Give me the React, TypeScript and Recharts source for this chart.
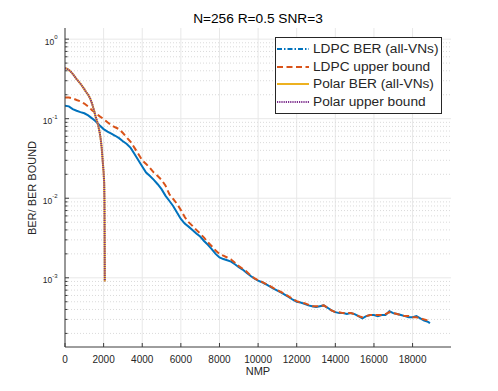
import React from 'react';
import { LineChart, Line, XAxis, YAxis, CartesianGrid, Legend } from 'recharts';

// NMP sample positions for the LDPC curves
const ldpcNmp = [
  0, 200, 400, 600, 800, 1000, 1200, 1400, 1600, 1800,
  2000, 2200, 2400, 2600, 2800, 3000, 3200, 3400, 3600, 3800,
  4000, 4200, 4400, 4600, 4800, 5000, 5200, 5400, 5600, 5800,
  6000, 6200, 6400, 6600, 6800, 7000, 7200, 7400, 7600, 7800,
  8000, 8200, 8400, 8600, 8800, 9000, 9200, 9400, 9600, 9800,
  10000, 10200, 10400, 10600, 10800, 11000, 11200, 11400, 11600, 11800,
  12000, 12200, 12400, 12600, 12800, 13000, 13200, 13400, 13600, 13800,
  14000, 14200, 14400, 14600, 14800, 15000, 15200, 15400, 15600, 15800,
  16000, 16200, 16400, 16600, 16800, 17000, 17200, 17400, 17600, 17800,
  18000, 18200, 18400, 18600, 18800, 18900,
];

const ldpcBer = [
  0.146, 0.143, 0.132, 0.126, 0.121, 0.117, 0.110, 0.101, 0.092, 0.082,
  0.074, 0.069, 0.065, 0.061, 0.057, 0.052, 0.048, 0.043, 0.036, 0.030,
  0.025, 0.021, 0.019, 0.017, 0.015, 0.013, 0.0108, 0.0093, 0.0080, 0.0066,
  0.0055, 0.0048, 0.0044, 0.0040, 0.0036, 0.0033, 0.0029, 0.0026, 0.0023, 0.0020,
  0.0018, 0.00172, 0.00166, 0.0016, 0.00148, 0.00136, 0.00127, 0.00116, 0.00106, 0.00098,
  0.00092, 0.00088, 0.00083, 0.00078, 0.00073, 0.00069, 0.00065, 0.00061, 0.00057, 0.00053,
  0.0005, 0.00049, 0.00047, 0.00045, 0.00044, 0.00043, 0.00044, 0.00045, 0.00042, 0.00039,
  0.00037, 0.00036, 0.00036, 0.00035, 0.00036, 0.00035, 0.00033, 0.00031, 0.00033, 0.00034,
  0.00034, 0.00033, 0.00034, 0.00034, 0.00038, 0.00036, 0.00035, 0.00034, 0.00033, 0.00032,
  0.00032, 0.00033, 0.00031, 0.00029, 0.00028, 0.00027,
];

const ldpcBound = [
  0.185, 0.185, 0.180, 0.172, 0.165, 0.155, 0.142, 0.128, 0.117, 0.107,
  0.099, 0.090, 0.083, 0.078, 0.074, 0.066, 0.058, 0.051, 0.043, 0.036,
  0.030, 0.027, 0.024, 0.021, 0.019, 0.017, 0.0145, 0.0113, 0.0098, 0.0085,
  0.0071, 0.0058, 0.0050, 0.0045, 0.0040, 0.0036, 0.0032, 0.0028, 0.0025, 0.0022,
  0.0020, 0.0019, 0.0018, 0.0017, 0.00155, 0.0014, 0.0013, 0.0012, 0.00108, 0.00099,
  0.00093, 0.00089, 0.00084, 0.00079, 0.00074, 0.0007, 0.00066, 0.00062, 0.00058, 0.00054,
  0.00051, 0.00049, 0.00048, 0.00046, 0.00044, 0.00044, 0.00044, 0.00045, 0.00042, 0.00039,
  0.00037, 0.00037, 0.00036, 0.00036, 0.00036, 0.00035, 0.00033, 0.00032, 0.00033, 0.00034,
  0.00034, 0.00034, 0.00034, 0.00035, 0.00037, 0.00036, 0.00035, 0.00034, 0.00033, 0.00033,
  0.00032, 0.00032, 0.00031, 0.0003, 0.00029, 0.00029,
];

const polarNmp = [
  0, 100, 200, 300, 400, 500, 600, 700, 800, 900, 1000, 1100, 1200, 1300, 1400,
  1500, 1600, 1700, 1750, 1800, 1850, 1900, 1950, 2000, 2030, 2045, 2050, 2055, 2058, 2060,
];
const polarBer = [
  0.43, 0.425, 0.41, 0.39, 0.365, 0.34, 0.315, 0.295, 0.275, 0.255, 0.235, 0.215, 0.2, 0.18, 0.155,
  0.128, 0.103, 0.086, 0.076, 0.066, 0.055, 0.043, 0.03, 0.021, 0.0155, 0.009, 0.005, 0.0025, 0.0015, 0.0009,
];
const polarBound = [
  0.43, 0.425, 0.41, 0.39, 0.365, 0.34, 0.315, 0.295, 0.275, 0.255, 0.235, 0.215, 0.2, 0.18, 0.155,
  0.128, 0.103, 0.086, 0.076, 0.066, 0.055, 0.043, 0.03, 0.021, 0.0155, 0.009, 0.005, 0.0025, 0.0015, 0.0009,
];

const xTicks = [0, 2000, 4000, 6000, 8000, 10000, 12000, 14000, 16000, 18000];
const yDecades = [1e-3, 1e-2, 1e-1, 1];
const yMinorSteps = [2, 3, 4, 5, 6, 7, 8, 9];
const yDomain = [1.35e-4, 1.38];
const xDomain = [0, 19990];

const yMinors = [1e-4, 1e-3, 1e-2, 1e-1]
  .flatMap((d) => yMinorSteps.map((m) => m * d))
  .filter((v) => v > yDomain[0] && v < yDomain[1]);
const yTicks = [...yMinors, ...yDecades].sort((a, b) => a - b);

const ldpcBerData = ldpcNmp.map((x, i) => ({ x, y: ldpcBer[i] }));
const ldpcBoundData = ldpcNmp.map((x, i) => ({ x, y: ldpcBound[i] }));
const polarBerData = polarNmp.map((x, i) => ({ x, y: polarBer[i] }));
const polarBoundData = polarNmp.map((x, i) => ({ x, y: polarBound[i] }));

const font = '"Liberation Sans", Arial, Helvetica, sans-serif';
const ink = '#262626';
const axisColor = '#3c3c3c';

const colors = {
  blue: '#0072BD',
  orange: '#D95319',
  yellow: '#EDB120',
  purple: '#7E2F8E',
};

const legendItems = [
  { name: 'LDPC BER (all-VNs)', color: colors.blue, dash: '5 2 1.5 2', width: 2 },
  { name: 'LDPC upper bound', color: colors.orange, dash: '6 3.5', width: 2 },
  { name: 'Polar BER (all-VNs)', color: colors.yellow, dash: undefined, width: 2 },
  { name: 'Polar upper bound', color: colors.purple, dash: '1.2 1', width: 2 },
];

const isDecade = (v: number) => Math.abs(Math.log10(v) - Math.round(Math.log10(v))) < 1e-9;

function BottomTick(props: any) {
  const { x, y, payload } = props;
  return (
    <g>
      <line x1={x} x2={x} y1={y} y2={y - 4} stroke={axisColor} />
      <text x={x} y={y + 15.5} textAnchor="middle" fontSize={10} fill={ink} fontFamily={font}>
        {payload.value}
      </text>
    </g>
  );
}

function TopTick(props: any) {
  const { x, y } = props;
  return <line x1={x} x2={x} y1={y} y2={y + 4} stroke={axisColor} />;
}

function LeftTick(props: any) {
  const { x, y, payload } = props;
  const major = isDecade(payload.value);
  const exp = Math.round(Math.log10(payload.value));
  return (
    <g>
      <line x1={x} x2={x + (major ? 4 : 2.5)} y1={y} y2={y} stroke={axisColor} />
      {major && (
        <text x={x - 7.5} y={y + 5.5} textAnchor="end" fill={ink} fontFamily={font}>
          <tspan fontSize={8.5}>10</tspan>
          <tspan fontSize={6} dy={-5.5}>{exp}</tspan>
        </text>
      )}
    </g>
  );
}

function RightTick(props: any) {
  const { x, y, payload } = props;
  const major = isDecade(payload.value);
  return <line x1={x} x2={x - (major ? 4 : 2.5)} y1={y} y2={y} stroke={axisColor} />;
}

function LegendBox() {
  return (
    <div
      style={{
        width: 165,
        height: 73,
        border: `1px solid ${ink}`,
        background: '#fff',
        boxSizing: 'content-box',
        paddingTop: 2,
        fontFamily: font,
        fontSize: 13.7,
        color: ink,
      }}
    >
      {legendItems.map((it) => (
        <div key={it.name} style={{ display: 'flex', alignItems: 'center', height: 17.7 }}>
          <svg width={34} height={6} style={{ marginLeft: 1, marginRight: 2 }}>
            <line x1={0} x2={32} y1={3} y2={3} stroke={it.color} strokeWidth={it.width} strokeDasharray={it.dash} />
          </svg>
          <span style={{ whiteSpace: 'nowrap', lineHeight: '17.7px' }}>{it.name}</span>
        </div>
      ))}
    </div>
  );
}

export default function App() {
  return (
    <div style={{ position: 'absolute', left: 0, top: 0, width: 498, height: 391, background: '#fff' }}>
      <LineChart width={498} height={391} margin={{ top: 28, right: 47, bottom: 0, left: 0 }}>
        <CartesianGrid stroke="#e8e8e8" verticalValues={xTicks} horizontalValues={yDecades} />
        <CartesianGrid stroke="#dadada" strokeDasharray="1 2" vertical={false} horizontalValues={yMinors} />
        <XAxis
          dataKey="x"
          type="number"
          domain={xDomain}
          allowDataOverflow
          ticks={xTicks}
          interval={0}
          height={44}
          tickSize={0}
          tickMargin={0}
          tickLine={false}
          tick={<BottomTick />}
          axisLine={{ stroke: axisColor }}
        />
        <XAxis
          xAxisId="top"
          orientation="top"
          type="number"
          domain={xDomain}
          allowDataOverflow
          ticks={xTicks}
          interval={0}
          height={0}
          tickSize={0}
          tickMargin={0}
          tickLine={false}
          tick={<TopTick />}
          axisLine={{ stroke: axisColor }}
        />
        <YAxis
          type="number"
          scale="log"
          domain={yDomain}
          allowDataOverflow
          ticks={yTicks}
          interval={0}
          width={65}
          tickSize={0}
          tickMargin={0}
          tickLine={false}
          tick={<LeftTick />}
          axisLine={{ stroke: axisColor }}
        />
        <YAxis
          yAxisId="r"
          orientation="right"
          type="number"
          scale="log"
          domain={yDomain}
          allowDataOverflow
          ticks={yTicks}
          interval={0}
          width={0}
          tickSize={0}
          tickMargin={0}
          tickLine={false}
          tick={<RightTick />}
          axisLine={{ stroke: axisColor }}
        />
        <Line data={ldpcBerData} dataKey="y" name="LDPC BER (all-VNs)" stroke={colors.blue} strokeWidth={2} dot={false} isAnimationActive={false} />
        <Line data={ldpcBoundData} dataKey="y" name="LDPC upper bound" stroke={colors.orange} strokeWidth={2} strokeDasharray="6 3.5" dot={false} isAnimationActive={false} />
        <Line data={polarBerData} dataKey="y" name="Polar BER (all-VNs)" stroke={colors.yellow} strokeWidth={2} dot={false} isAnimationActive={false} />
        <Line data={polarBoundData} dataKey="y" name="Polar upper bound" stroke={colors.purple} strokeWidth={2} strokeDasharray="1.2 1" dot={false} isAnimationActive={false} />
        <Legend
          layout="vertical"
          align="center"
          verticalAlign="middle"
          content={() => <LegendBox />}
          wrapperStyle={{ left: 275, top: 37, width: 'auto', height: 'auto' }}
        />
      </LineChart>
      <svg width={498} height={391} style={{ position: 'absolute', left: 0, top: 0, pointerEvents: 'none' }}>
        <text x={258} y={22.5} textAnchor="middle" fontSize={13.7} fill="#000" fontFamily={font}>
          N=256 R=0.5 SNR=3
        </text>
        <text x={258} y={375} textAnchor="middle" fontSize={11} fill={ink} fontFamily={font}>
          NMP
        </text>
        <text x={36} y={188} transform="rotate(-90 36 188)" textAnchor="middle" fontSize={11} fill={ink} fontFamily={font}>
          BER/ BER BOUND
        </text>
      </svg>
    </div>
  );
}
